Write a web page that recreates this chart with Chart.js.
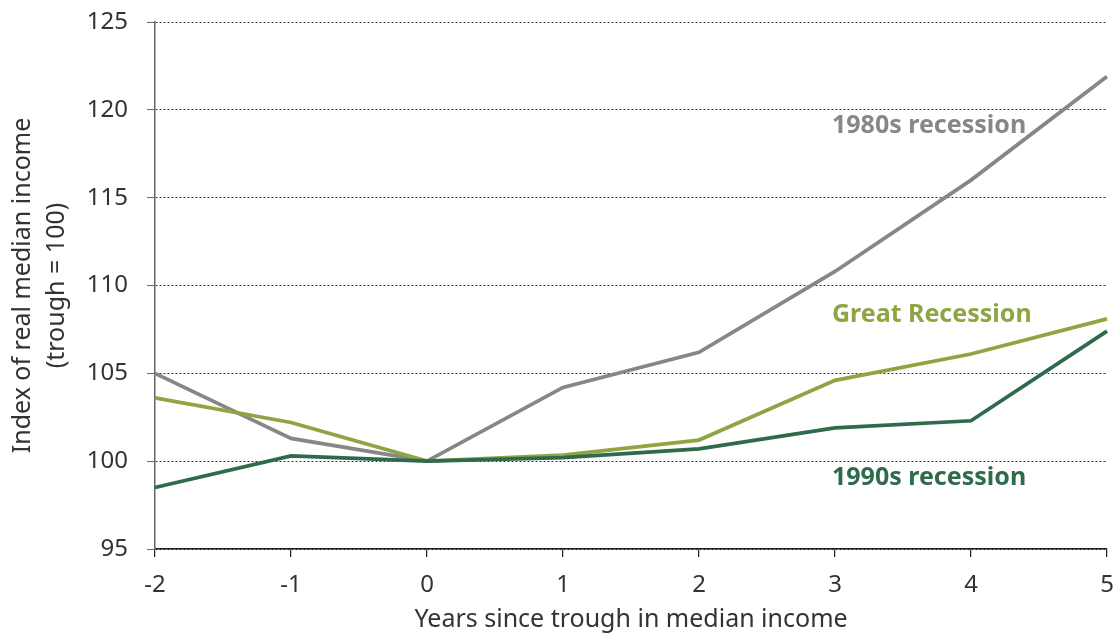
<!DOCTYPE html>
<html>
<head>
<meta charset="utf-8">
<script src="https://cdn.jsdelivr.net/npm/chart.js@4.4.1/dist/chart.umd.min.js"></script>
<style>
  html, body { margin: 0; padding: 0; background: #ffffff; }
  #wrap { width: 1118px; height: 634px; position: relative; }
</style>
</head>
<body>
<div id="wrap"><canvas id="incomeChart"></canvas></div>
<script>
const years = ['-2', '-1', '0', '1', '2', '3', '4', '5'];
const recession1980s = [105.0, 101.3, 100.0, 104.2, 106.2, 110.8, 116.0, 121.9];
const greatRecession = [103.6, 102.2, 100.0, 100.35, 101.2, 104.6, 106.1, 108.1];
const recession1990s = [98.5, 100.3, 100.0, 100.2, 100.7, 101.9, 102.3, 107.4];

// series name labels, placed at (year, value) on the chart
const seriesLabels = [
    { text: '1980s recession', x: '3', y: 119.1, color: '#878787' },
    { text: 'Great Recession', x: '3', y: 108.3, color: '#8fa543' },
    { text: '1990s recession', x: '3', y: 99.05, color: '#2f6a4c' }
];

const colors = {
    text: '#333333',
    grid: '#333333',
    yAxis: '#666666',
    xAxis: '#222222'
};

const FONT = "'Noto Sans', 'Open Sans', sans-serif";

const inlineLabels = {
    id: 'inlineLabels',
    afterDatasetsDraw(chart) {
        const { ctx, scales } = chart;
        ctx.save();
        ctx.font = `bold 25px ${FONT}`;
        ctx.textAlign = 'left';
        ctx.textBaseline = 'middle';
        seriesLabels.forEach(l => {
            ctx.fillStyle = l.color;
            ctx.fillText(l.text, scales.x.getPixelForValue(years.indexOf(l.x)) - 3, scales.y.getPixelForValue(l.y));
        });
        ctx.restore();
    }
};

function lineSet(label, data, color) {
    return {
        label,
        data,
        borderColor: color,
        backgroundColor: color,
        borderWidth: 3.75,
        pointRadius: 0,
        tension: 0,
        fill: false
    };
}

// fixed axis box sizes; edge label overhang is left to layout.padding
function fitX(s) {
    s.height = 85;
    s.paddingLeft = 0;
    s.paddingRight = 0;
}
function fitY(s) {
    s.width = 155;
    s.paddingTop = 0;
    s.paddingBottom = 0;
}

new Chart(document.getElementById('incomeChart').getContext('2d'), {
    type: 'line',
    data: {
        labels: years,
        datasets: [
            lineSet('1990s recession', recession1990s, '#2f6a4c'),
            lineSet('Great Recession', greatRecession, '#8fa543'),
            lineSet('1980s recession', recession1980s, '#878787')
        ]
    },
    options: {
        responsive: true,
        maintainAspectRatio: false,
        animation: false,
        layout: { padding: { top: 22, right: 11, left: 0, bottom: 0 } },
        plugins: {
            legend: { display: false },
            tooltip: { enabled: false }
        },
        scales: {
            x: {
                offset: false,
                afterFit: fitX,
                ticks: { color: colors.text, font: { family: FONT, size: 24 }, padding: 14, maxRotation: 0 },
                grid: { display: true, drawOnChartArea: false, drawTicks: true, tickLength: 8, tickColor: colors.xAxis, lineWidth: 1.2 },
                border: { display: true, color: colors.xAxis, width: 1.5 },
                title: {
                    display: true,
                    text: 'Years since trough in median income',
                    color: colors.text,
                    font: { family: FONT, size: 25, lineHeight: 1.1 },
                    padding: { top: 0, bottom: 0 }
                }
            },
            y: {
                min: 95,
                max: 125,
                afterFit: fitY,
                ticks: { stepSize: 5, color: colors.text, font: { family: FONT, size: 24 }, padding: 19 },
                grid: { color: colors.grid, lineWidth: 1, tickLength: 8, tickColor: colors.yAxis, tickBorderDash: [] },
                border: { display: true, color: colors.yAxis, width: 1.5, dash: [2, 2] },
                title: {
                    display: true,
                    text: ['Index of real median income', '(trough = 100)'],
                    color: colors.text,
                    font: { family: FONT, size: 25, lineHeight: 1.35 },
                    padding: { top: 6, bottom: 0 }
                }
            }
        }
    },
    plugins: [inlineLabels]
});
</script>
</body>
</html>
